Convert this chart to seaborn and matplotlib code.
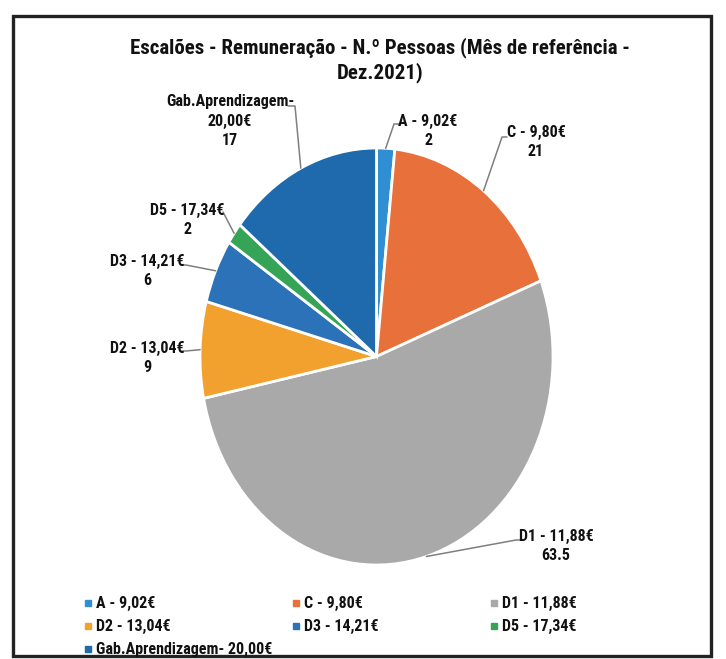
import matplotlib
matplotlib.use("Agg")
import matplotlib.pyplot as plt
from matplotlib.patches import Rectangle
import seaborn as sns
import numpy as np

# dados (Dez.2021)
escaloes = ["A - 9,02€", "C - 9,80€", "D1 - 11,88€", "D2 - 13,04€",
            "D3 - 14,21€", "D5 - 17,34€", "Gab.Aprendizagem- 20,00€"]
rotulos = ["A - 9,02€", "C - 9,80€", "D1 - 11,88€", "D2 - 13,04€",
           "D3 - 14,21€", "D5 - 17,34€", "Gab.Aprendizagem-\n20,00€"]
valores_txt = ["2", "21", "63.5", "9", "6", "2", "17"]
pessoas = [2, 21, 63.5, 9, 6, 2, 17]
cores = ["#2f8fd2", "#e8703a", "#a9a9a9", "#f2a12e", "#2b72b8", "#36a456", "#1f69ad"]

sns.set_theme(style="white")
fonte = ["Roboto Condensed", "Liberation Sans Narrow", "Roboto", "DejaVu Sans"]
plt.rcParams["font.family"] = fonte
plt.rcParams["font.weight"] = "bold"

W, H = 726, 659
fig = plt.figure(figsize=(W / 100, H / 100), dpi=100)
fig.patch.set_facecolor("white")

# pie (elipse, como no scan)
x0, x1, y0, y1 = 200, 553, 148, 565
ax = fig.add_axes([x0 / W, (H - y1) / H, (x1 - x0) / W, (y1 - y0) / H])
wedges, _ = ax.pie(pessoas, colors=cores, startangle=90, counterclock=False,
                   wedgeprops=dict(edgecolor="white", linewidth=2))
ax.set_aspect("auto")
ax.set_xlim(-1, 1)
ax.set_ylim(-1, 1)
ax.axis("off")

cx, cy = (x0 + x1) / 2, (y0 + y1) / 2
rx, ry = (x1 - x0) / 2, (y1 - y0) / 2


def px(x, y):
    return (x - cx) / rx, (cy - y) / ry


# posição do texto, ponto de ligação, cotovelo (pixels)
pos_rotulos = [
    ((428, 131), (399, 124), (394, 124)),
    ((536, 142), (507, 137), (502, 137)),
    ((556, 546), (521, 540), (516, 540)),
    ((147, 358), (181, 351), (186, 351)),
    ((147, 271), (181, 265), (186, 265)),
    ((187, 220), (223, 212), (223, 212)),
    ((230, 121), (288, 106), (295, 106)),
]

for w, rot, val, (tp, anc, elb) in zip(wedges, rotulos, valores_txt, pos_rotulos):
    ang = np.deg2rad((w.theta1 + w.theta2) / 2)
    ex, ey = np.cos(ang), np.sin(ang)
    ax_, ay_ = px(*anc)
    bx_, by_ = px(*elb)
    ax.plot([ex, bx_, ax_], [ey, by_, ay_], color="#7f7f7f", lw=1.1, clip_on=False)
    tx, ty = px(*tp)
    ax.text(tx, ty, rot + "\n" + val, ha="center", va="center", fontsize=11.5,
            fontweight="bold", linespacing=1.4, color="#111111", family=fonte)

fig.text(380 / W, 1 - 60 / H,
         "Escalões - Remuneração - N.º Pessoas (Mês de referência -\nDez.2021)",
         ha="center", va="center", fontsize=15, fontweight="bold",
         linespacing=1.3, color="#111111", family=fonte)

# legenda (3 colunas, ordem por linhas)
lx = [88, 296, 494]
ly = [603, 626, 649]
for i, (nome, cor) in enumerate(zip(escaloes, cores)):
    r, c = divmod(i, 3)
    fig.patches.append(Rectangle(((lx[c] - 3) / W, (H - ly[r] - 3) / H), 6 / W, 6 / H,
                                 transform=fig.transFigure, color=cor))
    fig.text((lx[c] + 8) / W, (H - ly[r]) / H, nome, ha="left", va="center",
             fontsize=11.5, fontweight="bold", color="#111111", family=fonte)

# moldura do scan
fig.patches.append(Rectangle((13 / W, (H - 656) / H), 698 / W, 640 / H,
                             transform=fig.transFigure, fill=False,
                             edgecolor="#222222", linewidth=2.4))

fig.savefig("out.png", dpi=100)
